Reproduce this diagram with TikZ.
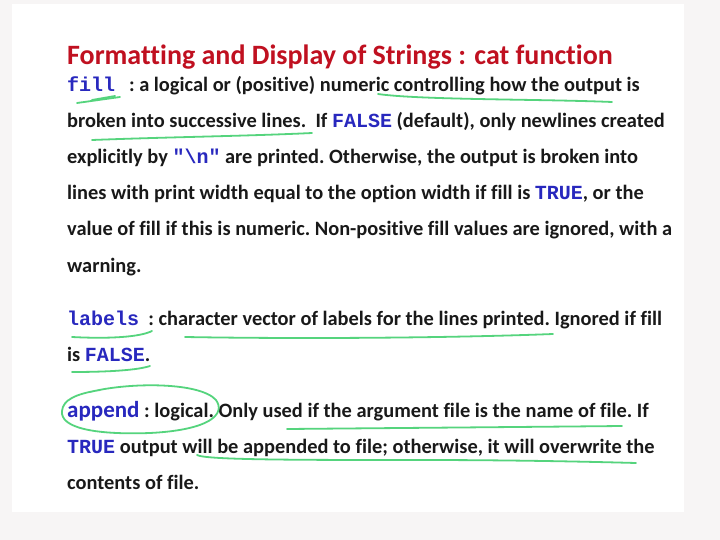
\documentclass[tikz,border=0pt]{standalone}
\usepackage{fontspec}
\setmainfont{Carlito}[Ligatures={NoCommon}]
\newfontfamily\codefont{Liberation Mono}
\definecolor{titlered}{RGB}{192,16,32}
\definecolor{codeblue}{RGB}{40,40,190}
\definecolor{bodytext}{RGB}{25,25,25}
\definecolor{pen}{RGB}{85,212,125}
\definecolor{bgray}{RGB}{247,245,245}
\newcommand{\cw}[1]{{\fontsize{20}{20}\selectfont\codefont\bfseries\color{codeblue}#1}}
\tikzset{
  body/.style={anchor=base west, inner sep=0, font=\fontsize{20.4}{22}\selectfont\bfseries\frenchspacing, text=bodytext},
  ttl/.style={anchor=base west, inner sep=0, font=\fontsize{28}{30}\selectfont\bfseries, text=titlered},
  ink/.style={draw=pen, line width=1.8pt, line cap=round, line join=round}
}
\begin{document}
\begin{tikzpicture}[x=1pt,y=-1pt]
\useasboundingbox (0,0) rectangle (720,540);
\fill[bgray] (0,0) rectangle (720,540);
\fill[white] (12,4) rectangle (684,512);

\node[ttl] (title) at (67,65) {Formatting and Display of Strings : cat function};

\node[body] (l1) at (67,92) {\cw{fill}\ \ \ : a logical or (positive) numeric controlling how the output is};
\node[body] (l2) at (67,128) {broken into successive lines.\ \ If \cw{FALSE} (default), only newlines created};
\node[body] (l3) at (67,164) {explicitly by \cw{"\textbackslash n"} are printed. Otherwise, the output is broken into};
\node[body] (l4) at (67,200) {lines with print width equal to the option width if fill is \cw{TRUE}, or the};
\node[body] (l5) at (67,236) {value of fill if this is numeric. Non-positive fill values are ignored, with a};
\node[body] (l6) at (67,272) {warning.};

\node[body] (l7) at (67,325) {\cw{labels}\ \ : character vector of labels for the lines printed. Ignored if fill};
\node[body] (l8) at (67,361) {is \cw{FALSE}.};

\node[body] (l9) at (67,417) {{\fontsize{23}{23}\selectfont\color{codeblue}append} : logical. Only used if the argument file is the name of file. If};
\node[body] (l10) at (67,453) {\cw{TRUE} output will be appended to file; otherwise, it will overwrite the};
\node[body] (l11) at (67,489) {contents of file.};

% handwritten annotations
\draw[ink] (77,103) -- (120,97);
\draw[ink] (92,100) -- (115,96);
\draw[ink] (378,94) .. controls (420,100) and (540,99) .. (612,102);
\draw[ink] (92,140) .. controls (170,137) and (250,136) .. (312,133);
\draw[ink] (72,337) .. controls (110,339) and (140,337) .. (152,331);
\draw[ink] (185,337) .. controls (300,339) and (450,338) .. (553,334);
\draw[ink] (72,372) .. controls (110,372) and (138,370) .. (150,366);
\draw[ink] (90,392) .. controls (130,382) and (200,382) .. (216,400)
  .. controls (226,414) and (210,430) .. (150,433)
  .. controls (95,435) and (60,428) .. (62,411)
  .. controls (63,400) and (75,394) .. (100,390);
\draw[ink] (287,429) .. controls (400,428) and (520,427) .. (622,426);
\draw[ink] (197,455) .. controls (205,460) and (300,460) .. (420,460)
  .. controls (520,460) and (600,462) .. (636,463);
\end{tikzpicture}
\end{document}
